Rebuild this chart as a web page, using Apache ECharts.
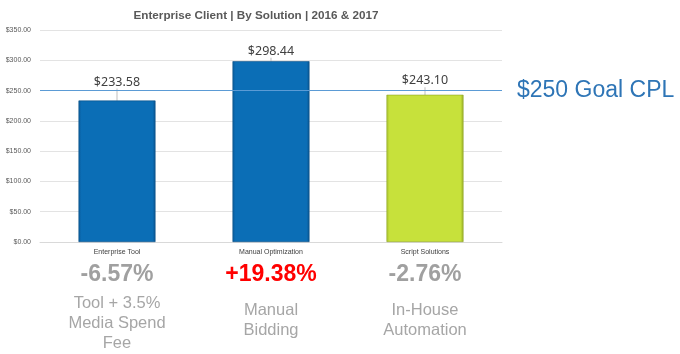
<!DOCTYPE html>
<html>
<head>
<meta charset="utf-8">
<script src="https://cdn.jsdelivr.net/npm/echarts@6/dist/echarts.min.js"></script>
<style>html,body{margin:0;padding:0;background:#fff}#c{width:680px;height:354px}</style>
</head>
<body>
<div id="c"></div>
<script>
var titleText = 'Enterprise Client | By Solution | 2016 & 2017';
var categories = ['Enterprise Tool', 'Manual Optimization', 'Script Solutions'];
var values = [233.58, 298.44, 243.10];
var changes = ['-6.57%', '+19.38%', '-2.76%'];
var descriptions = [['Tool + 3.5%', 'Media Spend', 'Fee'], ['Manual', 'Bidding'], ['In-House', 'Automation']];
var goalValue = 250;
var goalText = '$250 Goal CPL';
var yTicks = [0, 50, 100, 150, 200, 250, 300, 350];

function grad(edge, mid, edge2) {
  return new echarts.graphic.LinearGradient(0, 0, 1, 0, [
    {offset: 0, color: edge}, {offset: 0.04, color: mid},
    {offset: 0.96, color: mid}, {offset: 1, color: edge2}
  ]);
}
var barColors = [grad('#0A5C9C', '#0B6EB6', '#0A5590'), grad('#0A5C9C', '#0B6EB6', '#0A5590'), grad('#A9C230', '#C7E13B', '#98AF28')];
var labelShift = [-8.5, 0, -4];

var chart = echarts.init(document.getElementById('c'));
chart.setOption({
  animation: false,
  title: {
    text: titleText, left: 251, top: 5, textAlign: 'center',
    textStyle: {fontFamily: 'Liberation Sans', fontWeight: 'bold', fontSize: 11.7, color: '#595959'}
  },
  grid: {left: 40, right: 178, top: 30, bottom: 112, containLabel: false},
  xAxis: {
    type: 'category', data: categories,
    axisTick: {show: false},
    axisLine: {lineStyle: {color: '#D9D9D9'}},
    axisLabel: {
      margin: 5, interval: 0,
      formatter: function (v, i) {
        var pctStyle = changes[i].charAt(0) === '+' ? 'up' : 'down';
        var d = descriptions[i];
        var s = '{cat|' + v + '}\n{' + pctStyle + '|' + changes[i] + '}\n';
        if (d.length < 3) s += '{sp| }\n';
        s += d.map(function (t) { return '{desc|' + t + '}'; }).join('\n');
        return s;
      },
      rich: {
        cat: {fontFamily: 'Liberation Sans', fontSize: 7, color: '#404040', lineHeight: 10, align: 'center'},
        down: {fontFamily: 'Liberation Sans', fontSize: 23, fontWeight: 'bold', color: '#A0A0A0', lineHeight: 36, align: 'center'},
        up: {fontFamily: 'Liberation Sans', fontSize: 23, fontWeight: 'bold', color: '#FF0000', lineHeight: 36, align: 'center'},
        desc: {fontFamily: 'Liberation Sans', fontSize: 16.5, color: '#A6A6A6', lineHeight: 20, align: 'center'},
        sp: {fontSize: 2, lineHeight: 7, align: 'center'}
      }
    }
  },
  yAxis: {
    type: 'value', min: 0, max: 350, interval: 50,
    axisLine: {show: false}, axisTick: {show: false},
    splitLine: {lineStyle: {color: '#E3E3E3'}},
    axisLabel: {
      margin: 9, fontFamily: 'Liberation Sans', fontSize: 7, color: '#595959',
      formatter: function (v) { return '$' + v.toFixed(2); }
    }
  },
  series: [{
    type: 'bar',
    barWidth: '50%',
    data: values.map(function (v, i) {
      return {value: v, itemStyle: {color: barColors[i], borderColor: i === 2 ? '#8FA523' : '#0A4F85', borderWidth: 0.6}};
    }),
    label: {
      show: true, position: 'top', distance: 3.5,
      fontFamily: 'Noto Sans', fontSize: 12.5, color: '#404040',
      formatter: function (p) { return '$' + p.value.toFixed(2); }
    },
    labelLayout: function (p) { return {dy: labelShift[p.dataIndex]}; },
    labelLine: {show: true, lineStyle: {color: '#BFBFBF', width: 1}},
    markLine: {
      silent: true, symbol: 'none',
      lineStyle: {color: '#5B9BD5', width: 1.2, type: 'solid'},
      label: {
        show: true, position: 'end', distance: 15, formatter: goalText,
        fontFamily: 'Liberation Sans', fontSize: 23, color: '#2E75B6'
      },
      data: [{yAxis: goalValue}]
    }
  }]
});
</script>
</body>
</html>
